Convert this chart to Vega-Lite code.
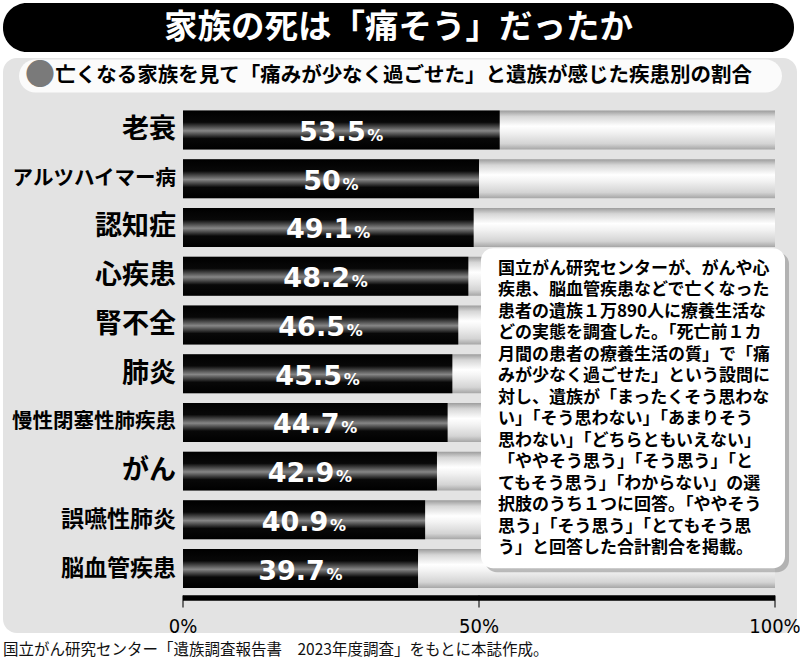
{
  "$schema": "https://vega.github.io/schema/vega-lite/v6.json",
  "padding": {"left": 3, "top": 3, "right": 3, "bottom": 3},
  "background": "white",
  "spacing": 6,
  "title": {
    "text": "国立がん研究センター「遺族調査報告書　2023年度調査」をもとに本誌作成。",
    "orient": "bottom",
    "anchor": "start",
    "fontSize": 15.5,
    "fontWeight": "normal",
    "color": "#111",
    "offset": 6
  },
  "datasets": {
    "rates": [
      {"disease": "老衰", "pct": 53.5},
      {"disease": "アルツハイマー病", "pct": 50},
      {"disease": "認知症", "pct": 49.1},
      {"disease": "心疾患", "pct": 48.2},
      {"disease": "腎不全", "pct": 46.5},
      {"disease": "肺炎", "pct": 45.5},
      {"disease": "慢性閉塞性肺疾患", "pct": 44.7},
      {"disease": "がん", "pct": 42.9},
      {"disease": "誤嚥性肺炎", "pct": 40.9},
      {"disease": "脳血管疾患", "pct": 39.7}
    ],
    "ticks": [
      {"tick": 0, "label": "0%"},
      {"tick": 50, "label": "50%"},
      {"tick": 100, "label": "100%"}
    ],
    "one": [{}]
  },
  "vconcat": [
    {
      "width": 791,
      "height": 49,
      "view": {"fill": "black", "cornerRadius": 24, "stroke": null},
      "data": {"name": "one"},
      "mark": {"type": "text", "color": "white", "fontSize": 33.5, "fontWeight": "bold", "baseline": "middle", "align": "center"},
      "encoding": {"text": {"value": "家族の死は「痛そう」だったか"}}
    },
    {
      "width": 794,
      "height": 575,
      "view": {"fill": "#e3e3e3", "cornerRadius": 14, "stroke": null},
      "resolve": {"scale": {"x": "independent"}},
      "layer": [
        {
          "data": {"name": "one"},
          "mark": {"type": "bar", "color": "#fbfbfb", "height": 33, "cornerRadius": 16.5, "yOffset": -54},
          "encoding": {
            "x": {"datum": -27.7, "type": "quantitative", "scale": {"domain": [-30.405, 103.716], "nice": false, "zero": false}, "axis": null},
            "x2": {"datum": 101.18},
            "y": {"datum": "老衰", "type": "nominal", "axis": null,
                  "scale": {"domain": ["老衰", "アルツハイマー病", "認知症", "心疾患", "腎不全", "肺炎", "慢性閉塞性肺疾患", "がん", "誤嚥性肺炎", "脳血管疾患"],
                            "paddingInner": 0.2, "paddingOuter": 1.14, "align": 0.539}}
          }
        },
        {
          "data": {"name": "one"},
          "mark": {"type": "text", "text": "●", "color": "#7a7a7a", "fontSize": 30, "align": "center", "baseline": "middle", "dy": -54},
          "encoding": {
            "x": {"datum": -24.16, "type": "quantitative", "scale": {"domain": [-30.405, 103.716], "nice": false, "zero": false}, "axis": null},
            "y": {"datum": "老衰", "type": "nominal"}
          }
        },
        {
          "data": {"name": "one"},
          "mark": {"type": "text", "text": "亡くなる家族を見て「痛みが少なく過ごせた」と遺族が感じた疾患別の割合", "color": "black", "fontSize": 20.5, "fontWeight": "bold", "align": "left", "baseline": "middle", "dy": -54},
          "encoding": {
            "x": {"datum": -21.6, "type": "quantitative", "scale": {"domain": [-30.405, 103.716], "nice": false, "zero": false}, "axis": null},
            "y": {"datum": "老衰", "type": "nominal"}
          }
        },
        {
          "data": {"name": "rates"},
          "mark": {"type": "bar", "color": {"gradient": "linear", "x1": 0, "y1": 0, "x2": 0, "y2": 1,
            "stops": [
              {"offset": 0, "color": "#9c9c9c"},
              {"offset": 0.15, "color": "#d6d6d6"},
              {"offset": 0.4, "color": "#ffffff"},
              {"offset": 0.55, "color": "#f3f3f3"},
              {"offset": 0.85, "color": "#d4d4d4"},
              {"offset": 1, "color": "#a6a6a6"}
            ]}},
          "encoding": {
            "y": {"field": "disease", "type": "nominal", "sort": null},
            "x": {"datum": 0, "type": "quantitative", "scale": {"domain": [-30.405, 103.716], "nice": false, "zero": false}, "axis": null},
            "x2": {"datum": 100}
          }
        },
        {
          "data": {"name": "rates"},
          "mark": {"type": "bar", "color": {"gradient": "linear", "x1": 0, "y1": 0, "x2": 0, "y2": 1,
            "stops": [
              {"offset": 0, "color": "#000000"},
              {"offset": 0.3, "color": "#080808"},
              {"offset": 0.52, "color": "#868686"},
              {"offset": 0.72, "color": "#080808"},
              {"offset": 1, "color": "#000000"}
            ]}},
          "encoding": {
            "y": {"field": "disease", "type": "nominal", "sort": null},
            "x": {"field": "pct", "type": "quantitative", "scale": {"domain": [-30.405, 103.716], "nice": false, "zero": false}, "axis": null},
            "x2": {"datum": 0}
          }
        },
        {
          "data": {"name": "rates"},
          "mark": {"type": "text", "align": "right", "baseline": "middle", "dx": -7, "fontWeight": "bold", "color": "black"},
          "encoding": {
            "y": {"field": "disease", "type": "nominal", "sort": null},
            "x": {"datum": 0, "type": "quantitative", "scale": {"domain": [-30.405, 103.716], "nice": false, "zero": false}, "axis": null},
            "text": {"field": "disease"},
            "size": {
              "condition": [
                {"test": "length(datum.disease) >= 8", "value": 20.5},
                {"test": "length(datum.disease) == 5", "value": 23}
              ],
              "value": 27
            }
          }
        },
        {
          "data": {"name": "rates"},
          "mark": {"type": "text", "font": "DejaVu Sans", "fontWeight": "bold", "fontSize": 27, "color": "white", "align": "center", "baseline": "alphabetic", "dx": -9, "dy": 11},
          "encoding": {
            "y": {"field": "disease", "type": "nominal", "sort": null},
            "x": {"field": "pct", "type": "quantitative", "scale": {"domain": [-60.81, 207.432], "nice": false, "zero": false}, "axis": null},
            "text": {"field": "pct", "type": "nominal"}
          }
        },
        {
          "data": {"name": "rates"},
          "transform": [{"filter": "datum.pct != 50"}],
          "mark": {"type": "text", "text": "%", "font": "DejaVu Sans", "fontWeight": "bold", "fontSize": 16, "color": "white", "align": "left", "baseline": "alphabetic", "dx": 26, "dy": 11},
          "encoding": {
            "y": {"field": "disease", "type": "nominal", "sort": null},
            "x": {"field": "pct", "type": "quantitative", "scale": {"domain": [-60.81, 207.432], "nice": false, "zero": false}, "axis": null}
          }
        },
        {
          "data": {"name": "rates"},
          "transform": [{"filter": "datum.pct == 50"}],
          "mark": {"type": "text", "text": "%", "font": "DejaVu Sans", "fontWeight": "bold", "fontSize": 16, "color": "white", "align": "left", "baseline": "alphabetic", "dx": 11.5, "dy": 11},
          "encoding": {
            "y": {"field": "disease", "type": "nominal", "sort": null},
            "x": {"field": "pct", "type": "quantitative", "scale": {"domain": [-60.81, 207.432], "nice": false, "zero": false}, "axis": null}
          }
        },
        {
          "data": {"name": "one"},
          "mark": {"type": "rule", "color": "black", "strokeWidth": 5.5, "yOffset": 29.4},
          "encoding": {
            "x": {"datum": 0, "type": "quantitative", "scale": {"domain": [-30.405, 103.716], "nice": false, "zero": false}, "axis": null},
            "x2": {"datum": 100},
            "y": {"datum": "脳血管疾患", "type": "nominal"}
          }
        },
        {
          "data": {"name": "ticks"},
          "mark": {"type": "tick", "color": "black", "size": 12, "thickness": 1.5, "yOffset": 33},
          "encoding": {
            "x": {"field": "tick", "type": "quantitative", "scale": {"domain": [-30.405, 103.716], "nice": false, "zero": false}, "axis": null},
            "y": {"datum": "脳血管疾患", "type": "nominal"}
          }
        },
        {
          "data": {"name": "ticks"},
          "mark": {"type": "text", "font": "Liberation Sans Narrow, DejaVu Sans Condensed, sans-serif", "fontSize": 20, "color": "black", "align": "center", "baseline": "middle", "dy": 58},
          "encoding": {
            "x": {"field": "tick", "type": "quantitative", "scale": {"domain": [-30.405, 103.716], "nice": false, "zero": false}, "axis": null},
            "y": {"datum": "脳血管疾患", "type": "nominal"},
            "text": {"field": "label"}
          }
        },
        {
          "data": {"name": "one"},
          "mark": {"type": "bar", "color": "#8a8a8a", "opacity": 0.55, "height": 320, "cornerRadius": 12, "yOffset": 38.5, "xOffset": 4, "x2Offset": 4},
          "encoding": {
            "x": {"datum": 50.34, "type": "quantitative", "scale": {"domain": [-30.405, 103.716], "nice": false, "zero": false}, "axis": null},
            "x2": {"datum": 101.69},
            "y": {"datum": "肺炎", "type": "nominal"}
          }
        },
        {
          "data": {"name": "one"},
          "mark": {"type": "bar", "color": "white", "height": 320, "cornerRadius": 12, "yOffset": 34.5},
          "encoding": {
            "x": {"datum": 50.34, "type": "quantitative", "scale": {"domain": [-30.405, 103.716], "nice": false, "zero": false}, "axis": null},
            "x2": {"datum": 101.69},
            "y": {"datum": "肺炎", "type": "nominal"}
          }
        },
        {
          "data": {"name": "one"},
          "mark": {
            "type": "text",
            "text": [
              "国立がん研究センターが、がんや心",
              "疾患、脳血管疾患などで亡くなった",
              "患者の遺族１万890人に療養生活な",
              "どの実態を調査した。「死亡前１カ",
              "月間の患者の療養生活の質」で「痛",
              "みが少なく過ごせた」という設問に",
              "対し、遺族が「まったくそう思わな",
              "い」「そう思わない」「あまりそう",
              "思わない」「どちらともいえない」",
              "「ややそう思う」「そう思う」「と",
              "てもそう思う」「わからない」の選",
              "択肢のうち１つに回答。「ややそう",
              "思う」「そう思う」「とてもそう思",
              "う」と回答した合計割合を掲載。"
            ],
            "fontSize": 17,
            "fontWeight": "bold",
            "lineHeight": 21.5,
            "color": "black",
            "align": "left",
            "baseline": "top",
            "dy": -15.5
          },
          "encoding": {
            "x": {"datum": 53.2, "type": "quantitative", "scale": {"domain": [-30.405, 103.716], "nice": false, "zero": false}, "axis": null},
            "y": {"datum": "心疾患", "type": "nominal"}
          }
        }
      ]
    }
  ],
  "config": {
    "font": "Noto Sans CJK JP",
    "view": {"stroke": null}
  }
}
